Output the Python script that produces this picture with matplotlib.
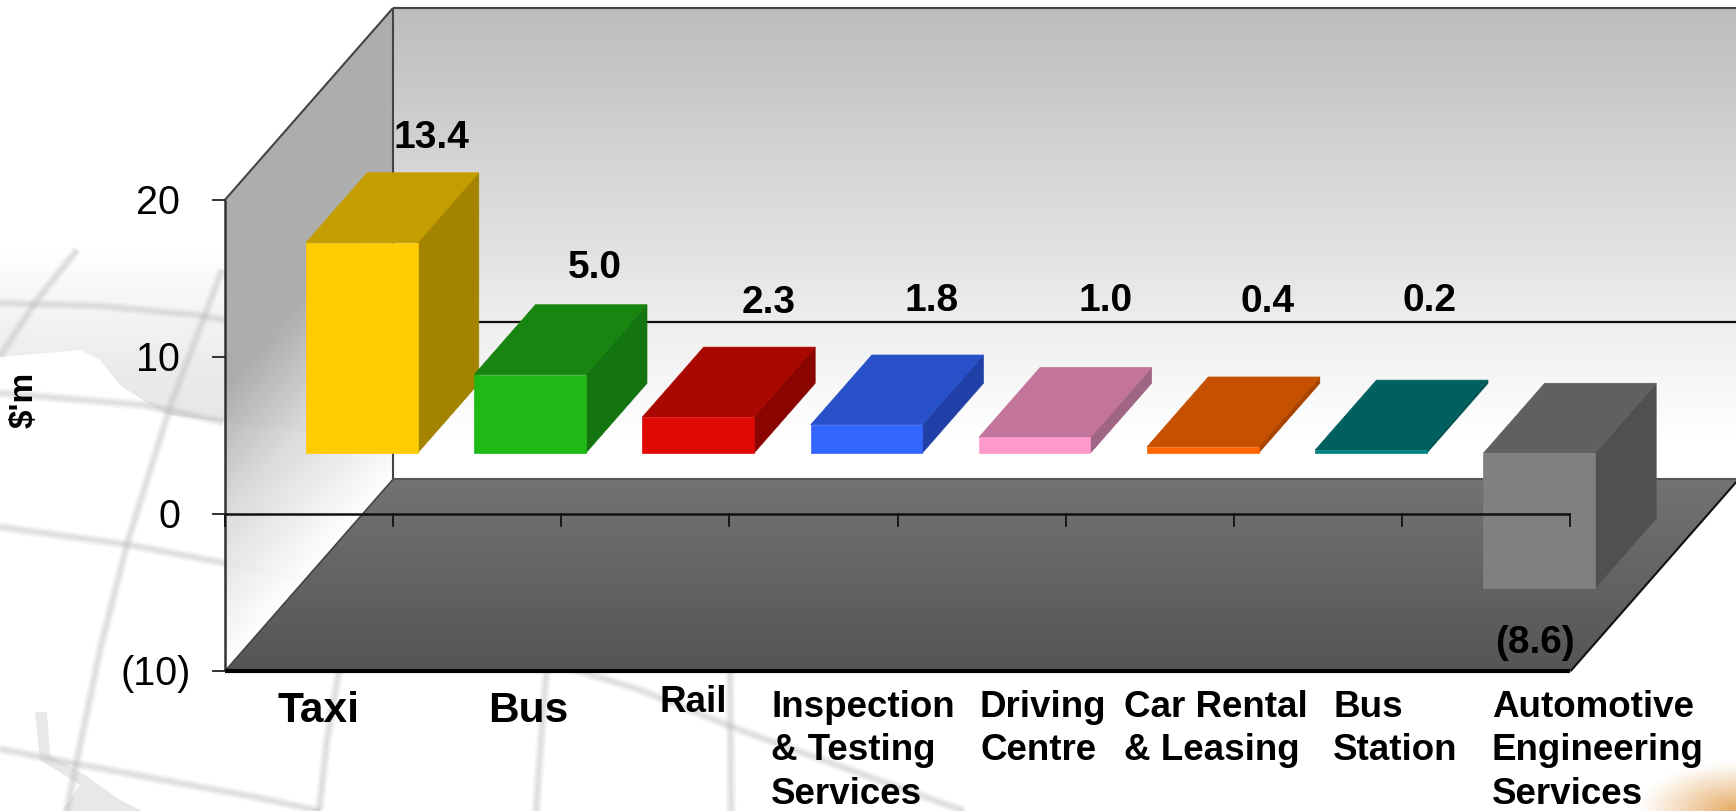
"""Segment profit chart drawn as a hand-built 3D bar scene."""

import matplotlib

matplotlib.use("Agg")
import matplotlib.pyplot as plt
import numpy as np
from matplotlib.colors import LinearSegmentedColormap
from matplotlib.patches import Polygon

plt.rcParams["font.family"] = ["Liberation Sans", "DejaVu Sans"]

CATEGORIES = [
    "Taxi",
    "Bus",
    "Rail",
    "Inspection\n& Testing\nServices",
    "Driving\nCentre",
    "Car Rental\n& Leasing",
    "Bus\nStation",
    "Automotive\nEngineering\nServices",
]
VALUES = [13.4, 5.0, 2.3, 1.8, 1.0, 0.4, 0.2, -8.6]
VALUE_LABELS = ["13.4", "5.0", "2.3", "1.8", "1.0", "0.4", "0.2", "(8.6)"]
TICK_VALUES = [-10, 0, 10, 20]
TICK_LABELS = ["(10)", "0", "10", "20"]
FRONT_COLORS = ["#FFCC00", "#20B815", "#E00A05", "#3366FF", "#FF99CC", "#FF6600", "#008080", "#808080"]
TOP_COLORS = ["#C49D00", "#188510", "#A80800", "#2850C8", "#C2749B", "#C45000", "#006060", "#606060"]
SIDE_COLORS = ["#A38300", "#147510", "#8A0500", "#2040A8", "#A06585", "#A84400", "#005050", "#505050"]

# pixel layout of the scene
WIDTH, HEIGHT = 1736, 811
X0, Y0 = 224.8, 514.2
SLOT = 168.2
UNIT = 15.71
DEPTH_RISE = 12.22  # value units climbed per full floor depth
BAR_OFFSET, BAR_WIDTH = 0.165, 0.663
BAR_NEAR, BAR_FAR = 0.318, 0.682

VALUE_LABEL_POS = [
    (431, 138), (595, 268), (769, 303), (932, 301),
    (1106, 301), (1268, 302), (1429, 301), (1535, 643),
]
CATEGORY_LABEL_POS = [
    (278, 711), (488, 711), (660, 703), (771, 690),
    (980, 690), (1124, 690), (1333, 690), (1492, 690),
]
CATEGORY_SIZES = [30.5, 30.5, 26.5, 26.5, 26.5, 26.5, 26.5, 26.5]


def project(cat, value, depth=0.0):
    """Map a category position, a value and a floor depth on to the sheared chart plane."""
    return cat + depth, value + DEPTH_RISE * depth


def px_to_data(px, py):
    return (px - X0) / SLOT, (Y0 - py) / UNIT


def draw_backdrop(fig):
    """Faint globe artwork and the warm corner glow behind the chart."""
    bg = fig.add_axes([0, 0, 1, 1], zorder=0)
    bg.set_xlim(0, WIDTH)
    bg.set_ylim(HEIGHT, 0)
    bg.axis("off")

    # land mass with a soft top edge
    grad = np.linspace(0, 1, 64).reshape(-1, 1)
    land_cmap = LinearSegmentedColormap.from_list(
        "land", ["#FFFFFF", "#F5F5F5", "#EAEAEA", "#E6E6E6"]
    )
    img = bg.imshow(grad, extent=(0, 400, 440, 245), cmap=land_cmap, aspect="auto", zorder=1)
    coast = Polygon(
        [(0, 245), (400, 245), (400, 440), (300, 432), (225, 422), (170, 415), (150, 405),
         (120, 385), (100, 360), (80, 350), (0, 357)],
        closed=True, transform=bg.transData, facecolor="none", edgecolor="none",
    )
    bg.add_patch(coast)
    img.set_clip_path(coast)
    bg.add_patch(Polygon(
        [(35, 712), (47, 712), (50, 755), (85, 775), (120, 800), (142, 811),
         (62, 811), (80, 785), (40, 760)],
        closed=True, facecolor="#E8E8E8", edgecolor="none", zorder=1,
    ))

    grid_lines = [
        [(0, 527), (130, 545), (303, 578), (480, 640), (640, 690), (740, 730), (964, 811)],
        [(0, 749), (77, 764), (260, 798), (320, 811)],
        [(0, 303), (100, 306), (197, 315), (225, 320)],
        [(0, 393), (143, 405), (223, 422)],
        [(222, 270), (170, 407), (127, 544), (100, 650), (77, 760), (67, 811)],
        [(77, 250), (37, 300), (0, 356)],
        [(340, 665), (327, 740), (319, 811)],
        [(547, 665), (541, 740), (536, 811)],
        [(730, 670), (731, 811)],
    ]
    for pts in grid_lines:
        xy = np.array(pts)
        # stacked strokes give the soft airbrushed edge
        for lw, alpha in ((7.5, 0.12), (5.0, 0.18), (2.5, 0.22)):
            bg.plot(xy[:, 0], xy[:, 1], color="#BDBDBD", lw=lw, alpha=alpha,
                    solid_capstyle="butt", zorder=2)

    # corner glow
    xx, yy = np.meshgrid(np.linspace(1620, WIDTH, 80), np.linspace(740, HEIGHT, 60))
    dist = np.hypot((xx - WIDTH) / 100.0, (yy - HEIGHT) / 50.0)
    glow = np.zeros(xx.shape + (4,))
    glow[..., :3] = matplotlib.colors.to_rgb("#E09A48")
    glow[..., 3] = 0.85 * np.clip(1 - dist, 0, 1) ** 1.1
    bg.imshow(glow, extent=(1620, WIDTH, HEIGHT, 740), aspect="auto", zorder=3)
    bg.set_xlim(0, WIDTH)
    bg.set_ylim(HEIGHT, 0)


def gradient_face(ax, corners, field, levels, colors, alpha=1.0, zorder=1):
    """Fill a polygon with a gradient; field(x, y) returns the gradient coordinate."""
    pts = np.array(corners)
    x0, x1, y0, y1 = pts[:, 0].min(), pts[:, 0].max(), pts[:, 1].min(), pts[:, 1].max()
    xx, yy = np.meshgrid(np.linspace(x0, x1, 400), np.linspace(y0, y1, 400))
    lo, hi = levels[0], levels[-1]
    stops = [((lv - lo) / (hi - lo), c) for lv, c in zip(levels, colors)]
    cmap = LinearSegmentedColormap.from_list("face", stops)
    img = ax.imshow(
        (field(xx, yy) - lo) / (hi - lo), extent=(x0, x1, y0, y1), origin="lower",
        cmap=cmap, vmin=0, vmax=1, aspect="auto", alpha=alpha, zorder=zorder,
    )
    clip = Polygon(corners, closed=True, transform=ax.transData, facecolor="none", edgecolor="none")
    ax.add_patch(clip)
    img.set_clip_path(clip)


def draw_walls(ax):
    n = len(CATEGORIES)
    vmin, vmax = TICK_VALUES[0], TICK_VALUES[-1]
    left_wall = [project(0, vmin), project(0, vmax), project(0, vmax, 1), project(0, vmin, 1)]
    back_wall = [project(0, vmin, 1), project(0, vmax, 1), project(n, vmax, 1), project(n, vmin, 1)]
    floor = [project(0, vmin), project(n, vmin), project(n, vmin, 1), project(0, vmin, 1)]

    gradient_face(
        ax, left_wall, lambda x, y: y - DEPTH_RISE * x,
        [-10, 0, 8, 20], ["#FFFFFF", "#D8D8D8", "#A8A8A8", "#A6A6A6"], alpha=0.92, zorder=1,
    )
    gradient_face(
        ax, back_wall, lambda x, y: y,
        [5.0, 32.6], ["#FFFFFF", "#BCBCBC"], zorder=1,
    )
    gradient_face(
        ax, floor, lambda x, y: y,
        [vmin, vmin + DEPTH_RISE], ["#555555", "#737373"], zorder=2,
    )

    def edge(a, b, color, lw):
        ax.plot([a[0], b[0]], [a[1], b[1]], color=color, lw=lw, zorder=3, solid_capstyle="butt")

    edge(project(0, vmax), project(0, vmax, 1), "#444444", 1.5)
    edge(project(0, vmax, 1), project(n, vmax, 1), "#444444", 1.5)
    edge(project(0, vmax, 1), project(0, vmin, 1), "#444444", 1.5)
    edge(project(0, vmin), project(0, vmin, 1), "#444444", 1.2)
    edge(project(0, vmin, 1), project(n, vmin, 1), "#555555", 1.5)
    edge(project(n, vmin), project(n, vmin, 1), "#111111", 1.5)
    edge(project(0, vmin), project(0, vmax), "#333333", 1.8)
    edge(project(0, vmin), project(n, vmin), "#000000", 3.0)
    # zero plane where it meets the back wall
    edge(project(0, 0, 1), project(n, 0, 1), "#111111", 1.6)


def draw_bars(ax):
    for i, value in enumerate(VALUES):
        left, right = i + BAR_OFFSET, i + BAR_OFFSET + BAR_WIDTH
        top = max(value, 0)
        bottom = min(value, 0)
        side = [project(right, bottom, BAR_NEAR), project(right, top, BAR_NEAR),
                project(right, top, BAR_FAR), project(right, bottom, BAR_FAR)]
        cap = [project(left, top, BAR_NEAR), project(right, top, BAR_NEAR),
               project(right, top, BAR_FAR), project(left, top, BAR_FAR)]
        front = [project(left, bottom, BAR_NEAR), project(right, bottom, BAR_NEAR),
                 project(right, top, BAR_NEAR), project(left, top, BAR_NEAR)]
        z = 4 + i * 0.1
        ax.add_patch(Polygon(side, closed=True, fc=SIDE_COLORS[i], ec=SIDE_COLORS[i], lw=0.5, zorder=z))
        ax.add_patch(Polygon(cap, closed=True, fc=TOP_COLORS[i], ec=TOP_COLORS[i], lw=0.5, zorder=z))
        ax.add_patch(Polygon(front, closed=True, fc=FRONT_COLORS[i], ec=FRONT_COLORS[i], lw=0.5, zorder=z))


def draw_axes_marks(ax):
    n = len(CATEGORIES)
    tick_down = 12 / UNIT
    tick_left = 12 / SLOT
    ax.plot([0, n], [0, 0], color="#111111", lw=1.8, zorder=6, solid_capstyle="butt")
    for i in range(n + 1):
        ax.plot([i, i], [0, -tick_down], color="#111111", lw=1.3, zorder=6)
    for tick, label in zip(TICK_VALUES, TICK_LABELS):
        ax.plot([-tick_left, 0], [tick, tick], color="#222222", lw=1.3, zorder=6)
        edge_px = 191 if label.startswith("(") else 180
        ax.text(px_to_data(edge_px, 0)[0], tick - 0.2, label, ha="right", va="center",
                fontsize=28.5, color="black", zorder=7)

    for label, (px, py) in zip(VALUE_LABELS, VALUE_LABEL_POS):
        x, y = px_to_data(px, py)
        ax.text(x, y, label, ha="center", va="center", fontsize=28, fontweight="bold",
                color="black", zorder=8)
    for label, (px, py), size in zip(CATEGORIES, CATEGORY_LABEL_POS, CATEGORY_SIZES):
        x, y = px_to_data(px, py)
        ax.text(x, y, label, ha="left", va="center" if "\n" not in label else "top",
                fontsize=size, fontweight="bold", color="black", linespacing=1.31, zorder=8)
    x, y = px_to_data(24, 400)
    ax.text(x, y, "$'m", rotation=90, ha="center", va="center", fontsize=24, fontweight="bold",
            color="black", parse_math=False, zorder=8)


def main():
    fig = plt.figure(figsize=(WIDTH / 100, HEIGHT / 100), dpi=100, facecolor="white")
    draw_backdrop(fig)

    ax = fig.add_axes([0, 0, 1, 1], zorder=1)
    ax.patch.set_alpha(0)
    ax.axis("off")
    draw_walls(ax)
    draw_bars(ax)
    draw_axes_marks(ax)
    ax.set_xlim(-X0 / SLOT, (WIDTH - X0) / SLOT)
    ax.set_ylim((Y0 - HEIGHT) / UNIT, Y0 / UNIT)

    fig.savefig("out.png", dpi=100)
    plt.close(fig)


if __name__ == "__main__":
    main()
